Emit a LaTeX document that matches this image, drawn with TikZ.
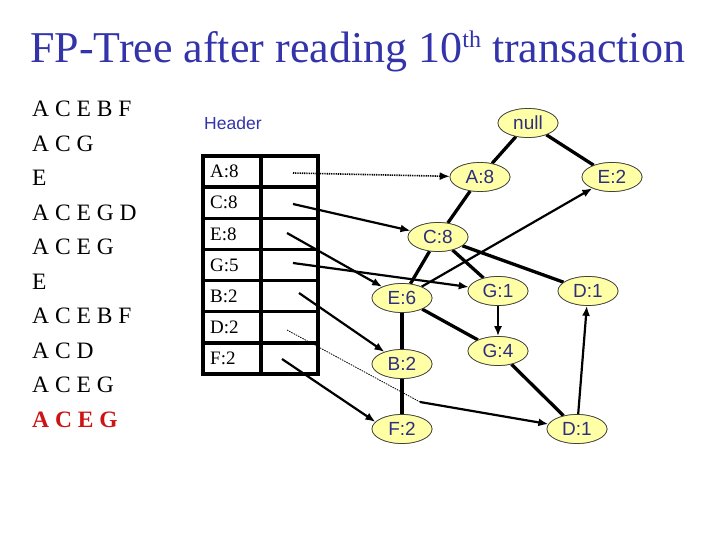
\documentclass[tikz,border=0pt]{standalone}
\usepackage{fontspec}
\setmainfont{Liberation Serif}
\newfontfamily\arialf{Liberation Sans}
\usetikzlibrary{arrows.meta,shapes.geometric}
\definecolor{titleblue}{RGB}{51,51,170}
\definecolor{nodeblue}{RGB}{45,45,130}
\definecolor{nodefill}{RGB}{255,255,165}
\definecolor{txred}{RGB}{204,20,20}
\begin{document}
\begin{tikzpicture}[x=1pt,y=-1pt,
  fpnode/.style={ellipse, draw=black!75, line width=0.7pt, fill=nodefill,
    minimum width=60pt, minimum height=29pt, inner sep=0pt,
    font=\arialf\fontsize{19}{19}\selectfont, text=nodeblue},
  treeedge/.style={line width=3.3pt},
  link/.style={line width=2.2pt, -{Latex[length=10pt,width=8pt]}},
  dotlink/.style={line width=1.6pt, dash pattern=on 1pt off 0.8pt, -{Latex[length=10pt,width=8pt]}},
  finedot/.style={line width=0.8pt, dash pattern=on 1.5pt off 1pt},
  txt/.style={anchor=base west, inner sep=0pt, font=\fontsize{23.5}{23.5}\selectfont},
  hlabel/.style={anchor=west, inner sep=0pt, font=\fontsize{19}{19}\selectfont},
  tablestyle/.style={line width=3.2pt}
]
\useasboundingbox (0,0) rectangle (720,540);

% title
\node[anchor=base west, inner sep=0pt, text=titleblue,
  font=\fontsize{44}{44}\selectfont] (title) at (30,63)
  {FP-Tree after reading 10\raisebox{15pt}{\fontsize{24}{24}\selectfont th} transaction};

% transactions
\node[txt] (t1) at (32,117.0) {A C E B F};
\node[txt] (t2) at (32,151.4) {A C G};
\node[txt] (t3) at (32,185.9) {E};
\node[txt] (t4) at (32,220.3) {A C E G D};
\node[txt] (t5) at (32,254.8) {A C E G};
\node[txt] (t6) at (32,289.2) {E};
\node[txt] (t7) at (32,323.6) {A C E B F};
\node[txt] (t8) at (32,358.1) {A C D};
\node[txt] (t9) at (32,392.5) {A C E G};
\node[txt, text=txred, font=\bfseries\fontsize{23.5}{23.5}\selectfont] (t10) at (32,427) {A C E G};

% header
\node[anchor=west, inner sep=0pt, text=titleblue, font=\arialf\fontsize{17.5}{17.5}\selectfont] (hdr) at (204,123) {Header};
\draw[tablestyle] (203,156) rectangle (318,374);
\draw[tablestyle] (261,156) -- (261,374);
\foreach \yy in {187.1,218.3,249.4,280.6,311.7,342.9} \draw[tablestyle] (203,\yy) -- (318,\yy);
\node[hlabel] (hA) at (210,171.6) {A:8};
\node[hlabel] (hC) at (210,202.7) {C:8};
\node[hlabel] (hE) at (210,233.9) {E:8};
\node[hlabel] (hG) at (210,265.0) {G:5};
\node[hlabel] (hB) at (210,296.1) {B:2};
\node[hlabel] (hD) at (210,327.3) {D:2};
\node[hlabel] (hF) at (210,358.4) {F:2};

% tree nodes
\node[fpnode] (null) at (528,123) {null};
\node[fpnode] (A8) at (480,177) {A:8};
\node[fpnode] (E2) at (612,177) {E:2};
\node[fpnode] (C8) at (438,237) {C:8};
\node[fpnode] (E6) at (402,298) {E:6};
\node[fpnode] (G1) at (498,291) {G:1};
\node[fpnode] (D1a) at (588,291) {D:1};
\node[fpnode] (G4) at (498,351) {G:4};
\node[fpnode] (B2) at (402,364) {B:2};
\node[fpnode] (F2) at (402,429) {F:2};
\node[fpnode] (D1b) at (577,429) {D:1};

% tree edges
\draw[treeedge] (null) -- (A8);
\draw[treeedge] (null) -- (E2);
\draw[treeedge] (A8) -- (C8);
\draw[treeedge] (C8) -- (E6);
\draw[treeedge] (C8) -- (G1);
\draw[treeedge] (C8) -- (D1a);
\draw[treeedge] (E6) -- (B2);
\draw[treeedge] (E6) -- (G4);
\draw[treeedge] (B2) -- (F2);
\draw[treeedge] (G4) -- (D1b);

% header links
\coordinate (sA) at (293,173);
\coordinate (sC) at (293,204);
\coordinate (sE) at (287,233);
\coordinate (sG) at (293,263);
\coordinate (sB) at (299,293);
\coordinate (sD) at (287,330);
\coordinate (bD) at (420,402);
\coordinate (sF) at (282,359);
\draw[dotlink] (sA) -- (A8);
\draw[link] (sC) -- (C8);
\draw[link] (sE) -- (E6);
\draw[link] (sG) -- (G1);
\draw[link] (sB) -- (B2);
\draw[finedot] (sD) -- (bD);
\draw[link] (bD) -- (D1b);
\draw[link] (sF) -- (F2.165);

% node links
\draw[link] (E6) -- (E2);
\draw[link] (G1) -- (G4);
\draw[link] (D1b) -- (D1a);

% redraw nodes on top
\foreach \n/\t in {null/null,A8/A:8,E2/E:2,C8/C:8,E6/E:6,G1/G:1,D1a/D:1,G4/G:4,B2/B:2,F2/F:2,D1b/D:1}
  \node[fpnode] at (\n) {\t};
\end{tikzpicture}
\end{document}
